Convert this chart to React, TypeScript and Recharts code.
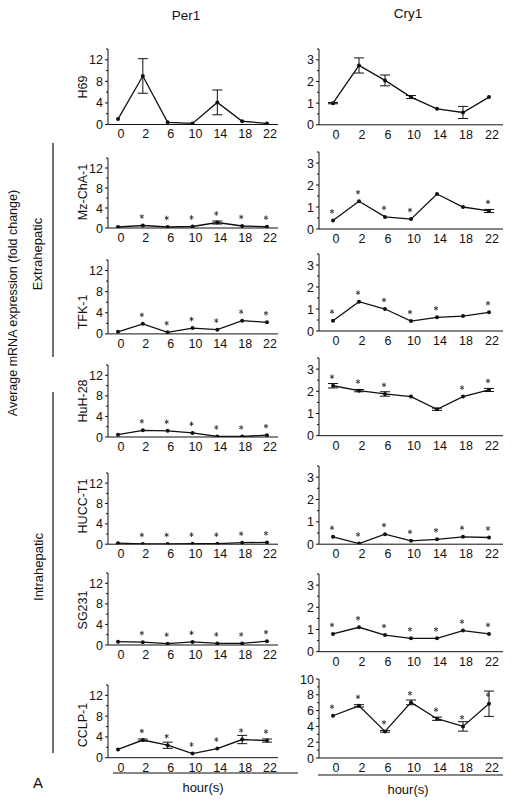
import React from 'react';
import { LineChart, Line, XAxis, YAxis, ErrorBar } from 'recharts';

// ---------- data ----------
const hours = ['0', '2', '6', '10', '14', '18', '22'];
const cellLines = ['H69', 'Mz-ChA-1', 'TFK-1', 'HuH-28', 'HUCC-T1', 'SG231', 'CCLP-1'];

// Per1 (fold change)
const per1H69 = [1.0, 9.0, 0.4, 0.2, 4.1, 0.6, 0.2];
const per1H69Err = [0, 3.2, 0, 0, 2.3, 0, 0];
const per1H69Sig = [0, 0, 0, 0, 0, 0, 0];
const per1Mz = [0.2, 0.5, 0.2, 0.3, 1.1, 0.4, 0.25];
const per1MzErr = [0, 0, 0, 0, 0.3, 0, 0];
const per1MzSig = [0, 1, 1, 1, 1, 1, 1];
const per1Tfk = [0.4, 1.9, 0.3, 1.1, 0.8, 2.5, 2.2];
const per1TfkErr = [0, 0, 0, 0, 0, 0, 0];
const per1TfkSig = [0, 1, 1, 1, 1, 1, 1];
const per1Huh = [0.45, 1.3, 1.2, 0.8, 0.1, 0.1, 0.35];
const per1HuhErr = [0, 0, 0, 0, 0, 0, 0];
const per1HuhSig = [0, 1, 1, 1, 1, 1, 1];
const per1Hucc = [0.2, 0.05, 0.05, 0.1, 0.1, 0.3, 0.35];
const per1HuccErr = [0, 0, 0, 0, 0, 0, 0];
const per1HuccSig = [0, 1, 1, 1, 1, 1, 1];
const per1Sg = [0.65, 0.55, 0.25, 0.6, 0.3, 0.3, 0.75];
const per1SgErr = [0, 0, 0, 0, 0, 0, 0];
const per1SgSig = [0, 1, 1, 1, 1, 1, 1];
const per1Cclp = [1.6, 3.4, 2.4, 0.8, 1.75, 3.5, 3.3];
const per1CclpErr = [0, 0.2, 0.6, 0, 0, 0.8, 0.3];
const per1CclpSig = [0, 1, 1, 1, 1, 1, 1];

// Cry1 (fold change)
const cry1H69 = [1.0, 2.74, 2.05, 1.28, 0.74, 0.57, 1.28];
const cry1H69Err = [0.03, 0.35, 0.25, 0.07, 0, 0.28, 0];
const cry1H69Sig = [0, 0, 0, 0, 0, 0, 0];
const cry1Mz = [0.39, 1.26, 0.55, 0.45, 1.59, 1.0, 0.82];
const cry1MzErr = [0, 0, 0, 0, 0, 0, 0.07];
const cry1MzSig = [1, 1, 1, 1, 0, 0, 1];
const cry1Tfk = [0.47, 1.33, 1.0, 0.45, 0.62, 0.68, 0.85];
const cry1TfkErr = [0, 0, 0, 0, 0, 0, 0];
const cry1TfkSig = [1, 1, 1, 1, 1, 0, 1];
const cry1Huh = [2.25, 2.03, 1.88, 1.76, 1.19, 1.76, 2.06];
const cry1HuhErr = [0.1, 0.05, 0.1, 0, 0.05, 0, 0.07];
const cry1HuhSig = [1, 1, 1, 0, 0, 1, 1];
const cry1Hucc = [0.33, 0.03, 0.45, 0.15, 0.22, 0.33, 0.3];
const cry1HuccErr = [0, 0, 0, 0, 0, 0, 0];
const cry1HuccSig = [1, 1, 1, 1, 1, 1, 1];
const cry1Sg = [0.8, 1.1, 0.75, 0.6, 0.6, 0.95, 0.8];
const cry1SgErr = [0, 0, 0, 0, 0, 0, 0];
const cry1SgSig = [1, 1, 1, 1, 1, 1, 1];
const cry1Cclp = [5.35, 6.6, 3.37, 7.04, 4.97, 4.0, 6.87];
const cry1CclpErr = [0, 0.15, 0.1, 0.3, 0.2, 0.6, 1.6];
const cry1CclpSig = [1, 1, 1, 1, 1, 1, 1];

const per1Ticks = [0, 2, 4, 6, 8, 10, 12, 14];
const per1Major = [0, 4, 8, 12];
const cry1Ticks = [0, 0.5, 1, 1.5, 2, 2.5, 3, 3.5];
const cry1Major = [0, 1, 2, 3];
const cry1CclpTicks = [0, 1, 2, 3, 4, 5, 6, 7, 8, 9, 10];
const cry1CclpMajor = [0, 2, 4, 6, 8, 10];

// ---------- layout ----------
const FONT = '"Liberation Sans", Arial, Helvetica, sans-serif';
const INK = '#111';
const YW = 30;
const MT = 6;
const MR = 4;
const XH = 22;

const leftCol = { x0: 108, x1: 278, padL: 10, padR: 11 };
const rightCol = { x0: 319, x1: 503, padL: 14, padR: 14 };
const leftRows = [
  [124.7, 49.2], [228.3, 158.3], [334, 260.1], [436.7, 364.7],
  [543.7, 472.5], [645, 573], [757.3, 684.6],
];
const rightRows = [
  [125, 49.2], [229.3, 152.3], [331, 254], [435.7, 358],
  [544, 465.8], [651.7, 574], [758.3, 679.3],
];
const rowLabelY = [87, 192, 312, 401, 506, 610, 725];

type Series = { v: number[]; e: number[]; s: number[] };
const per1Series: Series[] = [
  { v: per1H69, e: per1H69Err, s: per1H69Sig },
  { v: per1Mz, e: per1MzErr, s: per1MzSig },
  { v: per1Tfk, e: per1TfkErr, s: per1TfkSig },
  { v: per1Huh, e: per1HuhErr, s: per1HuhSig },
  { v: per1Hucc, e: per1HuccErr, s: per1HuccSig },
  { v: per1Sg, e: per1SgErr, s: per1SgSig },
  { v: per1Cclp, e: per1CclpErr, s: per1CclpSig },
];
const cry1Series: Series[] = [
  { v: cry1H69, e: cry1H69Err, s: cry1H69Sig },
  { v: cry1Mz, e: cry1MzErr, s: cry1MzSig },
  { v: cry1Tfk, e: cry1TfkErr, s: cry1TfkSig },
  { v: cry1Huh, e: cry1HuhErr, s: cry1HuhSig },
  { v: cry1Hucc, e: cry1HuccErr, s: cry1HuccSig },
  { v: cry1Sg, e: cry1SgErr, s: cry1SgSig },
  { v: cry1Cclp, e: cry1CclpErr, s: cry1CclpSig },
];

const YTick = (props: any) => {
  const { x, y, payload, major } = props;
  const isMajor = major.includes(payload.value);
  const ax = x + 5;
  return (
    <g>
      <line x1={ax - (isMajor ? 3 : 2)} y1={y} x2={ax} y2={y} stroke={INK} strokeWidth={1} />
      {isMajor && (
        <text x={x} y={y} dy="0.36em" textAnchor="end" fontSize={12.5} fill={INK} fontFamily={FONT}>
          {payload.value}
        </text>
      )}
    </g>
  );
};

const XTick = (props: any) => {
  const { x, y, payload } = props;
  return (
    <text x={x + 3} y={y} dy="0.71em" textAnchor="middle" fontSize={12.5} fill={INK} fontFamily={FONT}>
      {payload.value}
    </text>
  );
};

const STAR_R = 2.3;
const starArms = [90, 30, 150].map((deg) => {
  const a = (deg * Math.PI) / 180;
  return [Math.cos(a) * STAR_R, Math.sin(a) * STAR_R];
});

const StarDot = (props: any) => {
  const { cx, cy, payload } = props;
  if (cx == null || cy == null) return <g />;
  const sx = cx - 1;
  const sy = cy - 9;
  return (
    <g>
      <circle cx={cx} cy={cy} r={2} fill={INK} />
      {payload && payload.star ? (
        <g stroke="#333" strokeWidth={0.9}>
          {starArms.map(([dx, dy], k) => (
            <line key={k} x1={sx - dx} y1={sy - dy} x2={sx + dx} y2={sy + dy} />
          ))}
        </g>
      ) : null}
    </g>
  );
};

function Panel({ series, col, row, domainMax, ticks, major }: any) {
  const [yZero, yTop] = row;
  const width = col.x1 - col.x0 + YW + MR;
  const height = yZero - yTop + MT + XH;
  const data = hours.map((h, i) => ({
    hour: h,
    v: series.v[i],
    e: series.e[i],
    star: series.s[i] === 1,
  }));
  return (
    <div style={{ position: 'absolute', left: col.x0 - YW, top: yTop - MT, width, height }}>
      <LineChart width={width} height={height} data={data} margin={{ top: MT, right: MR, left: 0, bottom: 0 }}>
        <XAxis
          dataKey="hour"
          height={XH}
          padding={{ left: col.padL, right: col.padR }}
          axisLine={{ stroke: INK, strokeWidth: 1 }}
          tickLine={{ stroke: 'transparent' }}
          tickSize={2}
          tickMargin={3}
          interval={0}
          tick={(p: any) => <XTick {...p} />}
        />
        <YAxis
          type="number"
          width={YW}
          domain={[0, domainMax]}
          ticks={ticks}
          interval={0}
          allowDataOverflow
          axisLine={{ stroke: INK, strokeWidth: 1 }}
          tickLine={{ stroke: 'transparent' }}
          tickSize={3}
          tickMargin={2}
          tick={(p: any) => <YTick {...p} major={major} />}
        />
        <Line
          type="linear"
          dataKey="v"
          stroke={INK}
          strokeWidth={1.3}
          dot={(p: any) => <StarDot key={'d' + p.index} {...p} />}
          activeDot={false}
          isAnimationActive={false}
        >
          <ErrorBar dataKey="e" width={5} stroke={INK} strokeWidth={1} direction="y" />
        </Line>
      </LineChart>
    </div>
  );
}

export default function App() {
  return (
    <div style={{ position: 'absolute', left: 0, top: 0, width: 512, height: 803, background: '#fff', fontFamily: FONT }}>
      <svg width={512} height={803} style={{ position: 'absolute', left: 0, top: 0 }}>
        <text x={186} y={15} dy="0.35em" textAnchor="middle" fontSize={13.5} fill={INK} fontFamily={FONT}>Per1</text>
        <text x={408} y={13} dy="0.35em" textAnchor="middle" fontSize={13.5} fill={INK} fontFamily={FONT}>Cry1</text>
        <text transform="translate(13,303) rotate(-90)" dy="0.35em" textAnchor="middle" fontSize={12.5} fill={INK} fontFamily={FONT}>
          Average mRNA expression (fold change)
        </text>
        <text transform="translate(37,254) rotate(-90)" dy="0.35em" textAnchor="middle" fontSize={13} fill={INK} fontFamily={FONT}>
          Extrahepatic
        </text>
        <text transform="translate(38,567) rotate(-90)" dy="0.35em" textAnchor="middle" fontSize={13} fill={INK} fontFamily={FONT}>
          Intrahepatic
        </text>
        <line x1={53} y1={143} x2={53} y2={357} stroke={INK} strokeWidth={1.2} />
        <line x1={53} y1={392} x2={53} y2={753} stroke={INK} strokeWidth={1.2} />
        {cellLines.map((name, i) => (
          <text key={name} transform={`translate(83,${rowLabelY[i]}) rotate(-90)`} dy="0.35em" textAnchor="middle" fontSize={12.5} fill={INK} fontFamily={FONT}>
            {name}
          </text>
        ))}
        <line x1={113} y1={773} x2={298} y2={773} stroke={INK} strokeWidth={1.2} />
        <line x1={318} y1={775} x2={503} y2={775} stroke={INK} strokeWidth={1.2} />
        <text x={203} y={787} dy="0.35em" textAnchor="middle" fontSize={13} fill={INK} fontFamily={FONT}>hour(s)</text>
        <text x={408} y={789} dy="0.35em" textAnchor="middle" fontSize={13} fill={INK} fontFamily={FONT}>hour(s)</text>
        <text x={38} y={783} dy="0.35em" textAnchor="middle" fontSize={15} fill={INK} fontFamily={FONT}>A</text>
      </svg>
      {per1Series.map((s, i) => (
        <Panel key={'p' + i} series={s} col={leftCol} row={leftRows[i]} domainMax={14} ticks={per1Ticks} major={per1Major} />
      ))}
      {cry1Series.map((s, i) => (
        <Panel
          key={'c' + i}
          series={s}
          col={rightCol}
          row={rightRows[i]}
          domainMax={i === 6 ? 10 : 3.5}
          ticks={i === 6 ? cry1CclpTicks : cry1Ticks}
          major={i === 6 ? cry1CclpMajor : cry1Major}
        />
      ))}
    </div>
  );
}
